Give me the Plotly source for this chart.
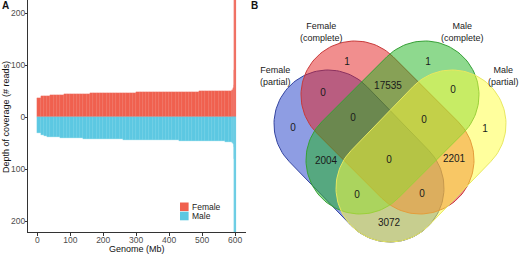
import numpy as np
import plotly.graph_objects as go

# ---------------- Panel A data (sorted depth of coverage) ----------------
body_mb = list(np.arange(5, 590, 10))          # 10-Mb bins 0..590
female_body = [37, 39.5, 40.5, 41, 41.5, 42, 42.5, 43, 43.5, 43.5,
               44, 44, 44.5, 44.5, 45, 45, 45.5, 45.5, 45.5, 46,
               46, 46, 46.5, 46.5, 46.5, 46.5, 47, 47, 47, 47,
               47.5, 47.5, 47.5, 47.5, 48, 48, 48, 48, 48, 48.5,
               48.5, 48.5, 48.5, 48.5, 49, 49, 49, 49, 49, 49.5,
               49.5, 49.5, 49.5, 50, 50, 50, 50, 50.5, 51]
male_body = [-31, -35, -36.5, -37.5, -38, -38.5, -39, -39.5, -40, -40,
             -40.5, -40.5, -41, -41, -41.5, -41.5, -42, -42, -42, -42.5,
             -42.5, -42.5, -43, -43, -43, -43, -43.5, -43.5, -43.5, -43.5,
             -44, -44, -44, -44, -44.5, -44.5, -44.5, -44.5, -45, -45,
             -45, -45, -45, -45.5, -45.5, -45.5, -45.5, -46, -46, -46,
             -46, -46.5, -46.5, -46.5, -47, -47, -47, -47.5, -48]
spike_mb = [591, 593, 595, 596.5, 597.5, 598.5, 599.5, 600.5, 601.5]
spike_width = [2, 2, 2, 1, 1, 1, 1, 1, 1]
female_spike = [51.5, 52.5, 55, 62, 90, 240, 240, 240, 240]
male_spike = [-48.5, -49.5, -52, -58, -80, -240, -240, -240, -240]

x_ticks = [0, 100, 200, 300, 400, 500, 600]
y_ticks = [-200, -100, 0, 100, 200]
y_ticktext = ["200", "100", "0", "100", "200"]

# ---------------- Panel B data (Venn counts) ----------------
set_names = ["Female<br>(partial)", "Female<br>(complete)",
             "Male<br>(complete)", "Male<br>(partial)"]
region_keys = ["A", "B", "C", "D", "AB", "BC", "CD", "AC", "BD", "AD",
               "ABC", "BCD", "ACD", "ABD", "ABCD"]
region_counts = [0, 1, 1, 1, 0, 17535, 0, 2004, 2201, 3072,
                 0, 0, 0, 0, 0]

# ---------------- layout geometry (pixels of the 520x255 canvas) -------------
W, H = 520, 255
FONT = "Liberation Sans, Arial, sans-serif"
RED, BLUE = "#F0604E", "#5CC8E2"

region_pos = {"A": (293, 128), "B": (347, 62), "C": (428, 62), "D": (485, 129),
              "AB": (323, 93), "BC": (388, 86), "CD": (453, 90),
              "AC": (326, 161), "BD": (454, 159), "AD": (389, 223),
              "ABC": (353, 118), "BCD": (424, 120), "ACD": (357, 195),
              "ABD": (422, 194), "ABCD": (389, 160)}
set_label_pos = [(275, 76), (321, 32), (462, 32), (503, 76)]
venn_geom = [((328, 124), (390, 188)),
             ((355, 95), (420, 160)),
             ((425, 95), (360, 160)),
             ((452, 124), (390, 188))]
venn_fill = ["rgba(30,60,200,0.5)", "rgba(228,30,30,0.5)",
             "rgba(30,180,30,0.5)", "rgba(255,255,60,0.5)"]
venn_line = ["#33439F", "#C83A3A", "#36A036", "#E8E860"]
R = 54


def stadium(c1, c2, r, n=60):
    (x1, y1), (x2, y2) = c1, c2
    th = np.arctan2(y2 - y1, x2 - x1)
    a1 = np.linspace(th + np.pi / 2, th + 3 * np.pi / 2, n)
    a2 = np.linspace(th - np.pi / 2, th + np.pi / 2, n)
    xs = np.concatenate([x1 + r * np.cos(a1), x2 + r * np.cos(a2), [x1 + r * np.cos(a1[0])]])
    ys = np.concatenate([y1 + r * np.sin(a1), y2 + r * np.sin(a2), [y1 + r * np.sin(a1[0])]])
    return xs, ys


fig = go.Figure()

# Panel A bars
fig.add_trace(go.Bar(x=body_mb + spike_mb, y=female_body + female_spike,
                     width=[10] * len(body_mb) + spike_width,
                     marker=dict(color=RED, line=dict(width=0.3, color="#F27C6C")),
                     name="Female", showlegend=False))
fig.add_trace(go.Bar(x=body_mb + spike_mb, y=male_body + male_spike,
                     width=[10] * len(body_mb) + spike_width,
                     marker=dict(color=BLUE, line=dict(width=0.3, color="#78D2E8")),
                     name="Male", showlegend=False))

# Panel B sets
for (c1, c2), fc, lc in zip(venn_geom, venn_fill, venn_line):
    xs, ys = stadium(c1, c2, R)
    fig.add_trace(go.Scatter(x=xs, y=ys, mode="lines", fill="toself",
                             fillcolor=fc, line=dict(color=lc, width=1),
                             hoverinfo="skip", showlegend=False,
                             xaxis="x2", yaxis="y2"))

fig.add_trace(go.Scatter(x=[region_pos[k][0] for k in region_keys],
                         y=[region_pos[k][1] for k in region_keys],
                         text=[str(c) for c in region_counts], mode="text",
                         textfont=dict(family=FONT, size=10, color="#1a1a1a"),
                         showlegend=False, xaxis="x2", yaxis="y2"))

ann = []
for name, (px, py) in zip(set_names, set_label_pos):
    ann.append(dict(x=px, y=py, xref="x2", yref="y2", text=name, showarrow=False,
                    xanchor="center", yanchor="middle",
                    font=dict(family=FONT, size=9, color="#222222"), align="center"))


def P(px, py):
    return px / W, 1 - py / H


# axis titles, panel letters, legend
for txt, (px, py), kw in [
    ("Genome (Mb)", (137, 249), {}),
    ("Depth of coverage (# reads)", (6, 117), {"textangle": -90}),
    ("<b>A</b>", (5, 5), {}),
    ("<b>B</b>", (254, 5), {}),
]:
    x, y = P(px, py)
    size = 10 if "<b>" in txt else 9
    ann.append(dict(x=x, y=y, xref="paper", yref="paper", text=txt, showarrow=False,
                    xanchor="center", yanchor="middle",
                    font=dict(family=FONT, size=size, color="#111111"), **kw))

shapes = []
for i, (lab, col) in enumerate([("Female", RED), ("Male", BLUE)]):
    top = 202.5 + i * 9.2
    x0, y0 = P(180, top + 8.6)
    x1, y1 = P(188.6, top)
    shapes.append(dict(type="rect", xref="paper", yref="paper", x0=x0, x1=x1, y0=y0, y1=y1,
                       fillcolor=col, line=dict(width=0)))
    tx, ty = P(190, top + 4.5)
    ann.append(dict(x=tx, y=ty, xref="paper", yref="paper", text=lab, showarrow=False,
                    xanchor="left", yanchor="middle",
                    font=dict(family=FONT, size=8.5, color="#222222")))

axis_col = "#333333"
fig.update_layout(
    width=W, height=H, margin=dict(l=0, r=0, t=0, b=0),
    paper_bgcolor="white", plot_bgcolor="white",
    barmode="overlay", bargap=0,
    annotations=ann, shapes=shapes,
    xaxis=dict(domain=[28 / W, 246 / W], range=[-28.2, 633], tickvals=x_ticks,
               ticks="outside", ticklen=2.5, tickcolor=axis_col, showline=True,
               linecolor=axis_col, linewidth=1, showgrid=False, zeroline=False,
               tickfont=dict(family=FONT, size=8.5, color="#4d4d4d"), anchor="y",
               automargin=False, ticklabelstandoff=-3),
    yaxis=dict(domain=[1 - 232 / H, 1], range=[-221, 225], tickvals=y_ticks,
               ticktext=y_ticktext, ticks="outside", ticklen=2, tickcolor=axis_col,
               showline=True, linecolor=axis_col, linewidth=1, showgrid=False,
               zeroline=False, tickfont=dict(family=FONT, size=8.5, color="#4d4d4d"),
               anchor="x", automargin=False, ticklabelstandoff=-2),
    xaxis2=dict(domain=[0.5, 1], range=[260, 520], visible=False, anchor="y2",
                showgrid=False, zeroline=False),
    yaxis2=dict(domain=[0, 1], range=[255, 0], visible=False, anchor="x2",
                showgrid=False, zeroline=False),
)

fig.write_html("out.html", config={"displayModeBar": False},
               post_script="document.body.style.margin='0';document.body.style.padding='0';")
